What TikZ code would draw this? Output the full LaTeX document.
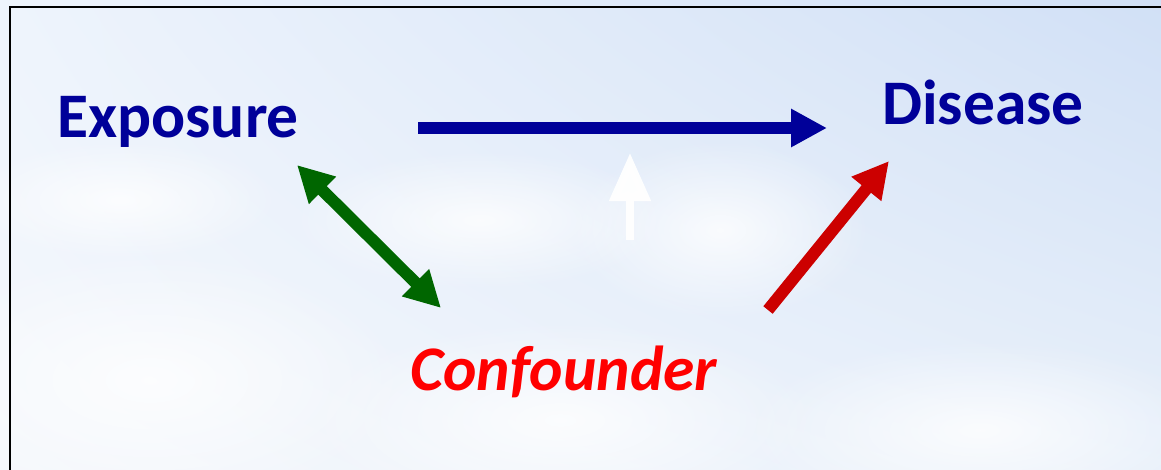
\documentclass[tikz,border=0pt]{standalone}
\usepackage{fontspec}
\setmainfont{Carlito}
\usetikzlibrary{arrows.meta,fadings,shadings}
\tikzfading[name=softcloud, inner color=transparent!0, outer color=transparent!100]
\definecolor{darkblue}{HTML}{000099}
\definecolor{arrowgreen}{HTML}{006600}
\definecolor{arrowred}{HTML}{CC0000}
\definecolor{skyUL}{HTML}{EEF4FC}
\definecolor{skyUR}{HTML}{D1E0F6}
\definecolor{skyLL}{HTML}{F5F8FC}
\definecolor{skyLR}{HTML}{E8F0FA}
\tikzset{
  label text/.style={inner sep=0pt, anchor=base west, font=\fontsize{63.5}{66}\selectfont\bfseries},
  fat arrow/.style={line width=12pt, -{Triangle[length=36pt,width=36pt]}},
  fat double/.style={line width=12pt, {Triangle[length=36pt,width=36pt]}-{Triangle[length=36pt,width=36pt]}},
  cloud/.style={white, path fading=softcloud, opacity=0.8},
}
\begin{document}
\begin{tikzpicture}[x=1pt,y=-1pt]
\useasboundingbox (0,0) rectangle (1161,469);
% sky background
\shade[upper left=skyUL, upper right=skyUR, lower left=skyLL, lower right=skyLR] (0,0) rectangle (1161,469);
% soft clouds
\fill[cloud] (720,230) ellipse [x radius=150, y radius=90];
\fill[cloud] (480,220) ellipse [x radius=190, y radius=70];
\fill[cloud] (150,380) ellipse [x radius=260, y radius=130];
\fill[cloud] (560,420) ellipse [x radius=260, y radius=100];
\fill[cloud] (980,430) ellipse [x radius=240, y radius=90];
\fill[cloud] (120,200) ellipse [x radius=160, y radius=60];
% frame (right and bottom edges lie outside)
\draw[line width=2pt, black] (1170,7) -- (10,7) -- (10,480);
% labels
\node[label text, text=darkblue] (exp) at (57,137) {Exposure};
\node[label text, text=darkblue] (dis) at (882,124) {Disease};
\node[label text, text=red, font=\fontsize{63.5}{66}\selectfont\bfseries\itshape] (conf) at (410,390) {Confounder};
% arrow end points
\coordinate (ea) at (418,128);
\coordinate (eb) at (827,128);
\coordinate (ga) at (297,165);
\coordinate (gb) at (441,308);
\coordinate (ra) at (768,310);
\coordinate (rb) at (889,161);
\coordinate (wa) at (630,240);
\coordinate (wb) at (630,153);
% connectors
\draw[fat arrow, darkblue] (ea) -- (eb);
\draw[fat double, arrowgreen] (ga) -- (gb);
\draw[fat arrow, arrowred] (ra) -- (rb);
\draw[line width=8pt, white, opacity=0.95, -{Triangle[length=48pt,width=40pt]}] (wa) -- (wb);
\end{tikzpicture}
\end{document}
